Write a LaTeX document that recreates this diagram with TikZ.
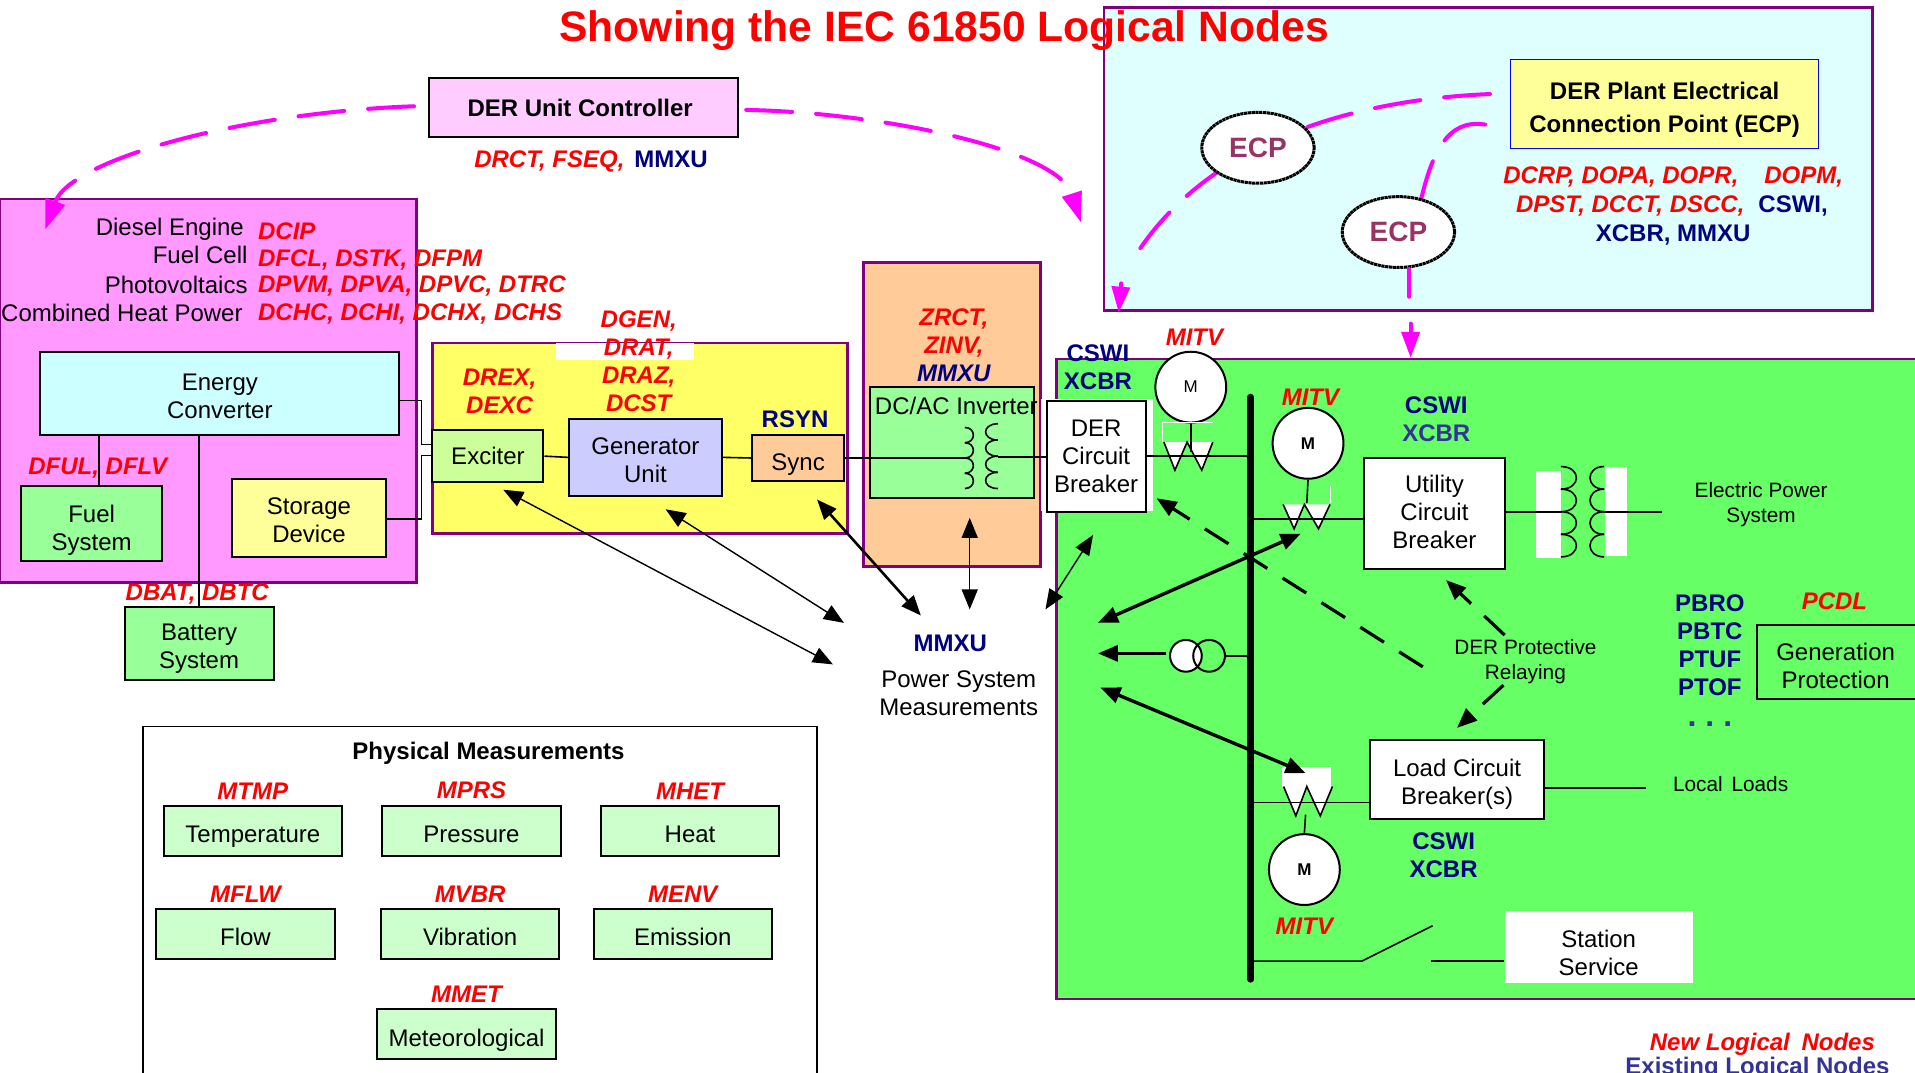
\documentclass[tikz,border=0pt]{standalone}
\usepackage{fontspec}
\setmainfont{Liberation Sans}
\usetikzlibrary{arrows.meta,shapes.geometric}

\definecolor{panelpurple}{HTML}{800080}
\definecolor{linkmagenta}{HTML}{FF00FF}
\definecolor{lnnavy}{HTML}{000080}
\definecolor{lnblue}{HTML}{333399}
\definecolor{ecpplum}{HTML}{993366}
\definecolor{plantgreen}{HTML}{66FF66}
\definecolor{derpink}{HTML}{FF99FF}
\definecolor{ctrlpink}{HTML}{FFCCFF}
\definecolor{gridcyan}{HTML}{DFFFFF}
\definecolor{convcyan}{HTML}{CCFFFF}
\definecolor{genyellow}{HTML}{FFFF66}
\definecolor{paleyellow}{HTML}{FFFF99}
\definecolor{paleorange}{HTML}{FFCC99}
\definecolor{midgreen}{HTML}{99FF99}
\definecolor{palegreen}{HTML}{CCFFCC}
\definecolor{limegreen}{HTML}{CCFF99}
\definecolor{genblue}{HTML}{CCCCFF}

\newdimen\unitpx
\unitpx=0.6107pt

\tikzset{
	>={Triangle[length=10pt,width=8pt]},
	panel/.style={draw=panelpurple, line width=1.3pt},
	wh/.style 2 args={minimum width=#1\unitpx, minimum height=#2\unitpx, inner sep=0pt},
	box/.style={draw=black, line width=1pt, align=center, font=\fontsize{12}{14}\selectfont},
	patch/.style={fill=white, inner sep=0pt},
	wire/.style={line width=0.8pt},
	lbl/.style={inner sep=0pt, align=center, font=\fontsize{12}{14}\selectfont},
	lblsmall/.style={inner sep=0pt, align=center, font=\fontsize{10.4}{12.6}\selectfont},
	newln/.style={inner sep=0pt, align=center, red, font=\fontsize{12}{14}\selectfont\bfseries\itshape},
	oldln/.style={inner sep=0pt, align=center, lnnavy, font=\fontsize{12}{14}\selectfont\bfseries},
	meter/.style={circle, draw=black, fill=white, line width=1pt, minimum size=58\unitpx, inner sep=0pt, font=\fontsize{8.5}{10}\selectfont},
	ecp/.style={ellipse, draw=black, fill=white, line width=1.5pt, dash pattern=on 1.6pt off 0.3pt, minimum width=92\unitpx, minimum height=58\unitpx, inner sep=0pt, text=ecpplum, font=\fontsize{14}{16}\selectfont\bfseries},
	ctcircle/.style={circle, draw=black, line width=1pt, minimum size=26\unitpx, inner sep=0pt},
	linkcurve/.style={linkmagenta, line width=2pt, line cap=round, dash pattern=on 23pt off 12pt},
	dashtip/.style={line width=1.6pt, dash pattern=on 14pt off 9pt},
	thicktip/.style={line width=1.7pt},
	thintip/.style={line width=0.7pt}
}

\newcommand{\dropby}[1]{\rule{0pt}{#1pt}}
\newcommand{\coilturns}[4]{\foreach \i in {0,...,3} \draw[wire] (#1,{#2+#4*\i}) .. controls +(#3,0) and +(#3,0) .. +(0,#4);}
\newcommand{\breakerw}[7]{\draw[wire, fill=white] (#1,#6) -- (#2,#7) -- (#3,#6) -- (#4,#7) -- (#5,#6);}

\begin{document}
\begin{tikzpicture}[x=\unitpx, y=-\unitpx]
	\useasboundingbox (0,0) rectangle (1568,878);

	\draw[panel, fill=gridcyan] (904,6) rectangle (1533,254);
	\draw[panel, fill=plantgreen] (865,294) rectangle (1575,818);
	\draw[panel, fill=derpink] (0,163) rectangle (341,477);
	\draw[panel, fill=genyellow] (354,281) rectangle (694,437);
	\draw[panel, fill=paleorange] (707,215) rectangle (852,464);
	\node[patch, wh={113}{14}] (dgenpatch) at (511.5,288) {};
	\node[patch, wh={92}{91}] (dercbpatch) at (898,372.5) {};

	\node[font=\fontsize{21.3}{24}\selectfont\bfseries, red, inner sep=0pt] (title) at (773,25) {Showing the IEC 61850 Logical Nodes};

	\node[box, fill=ctrlpink, wh={253}{48}, font=\fontsize{12}{14}\selectfont\bfseries] (ctrl) at (477.5,88) {DER Unit Controller\hspace{3pt}};
	\node[newln, anchor=west] (ctrlln) at (388,132) {DRCT, FSEQ,\hspace{5pt}\textcolor{lnnavy}{\upshape MMXU}};

	\coordinate (ctrlleft) at (339,87);
	\coordinate (dertip) at (37,188);
	\coordinate (ctrlright) at (611,90);
	\coordinate (gridtip) at (885,182);
	\draw[linkcurve, -{Triangle[length=15pt,width=10pt]}] (ctrlleft) .. controls (200,92) and (58,130) .. (dertip);
	\draw[linkcurve, -{Triangle[length=15pt,width=10pt]}] (ctrlright) .. controls (720,92) and (866,122) .. (gridtip);

	\node[box, fill=paleyellow, draw=blue, line width=0.5pt, wh={252}{73}, font=\fontsize{12}{16.5}\selectfont\bfseries] (plant) at (1363,85.5) {\dropby{13.6}DER Plant Electrical\\Connection Point (ECP)};
	\node[newln] (plantlnA) at (1370,145) {DCRP, DOPA, DOPR,\hspace{13pt}DOPM,};
	\node[newln, anchor=west] (plantlnB) at (1241,169) {DPST, DCCT, DSCC,\hspace{7pt}\textcolor{lnnavy}{\upshape CSWI,}};
	\node[oldln] (plantlnC) at (1370,192) {XCBR, MMXU};

	\coordinate (plantA) at (1220,77);
	\coordinate (plantAend) at (928,212);
	\coordinate (plantAgap) at (918,232);
	\coordinate (dertipB) at (916,256);
	\coordinate (plantB) at (1216,102);
	\coordinate (plantmid) at (1162,170);
	\coordinate (plantBend) at (1154,243);
	\coordinate (plantBgap) at (1155,265);
	\coordinate (greentip) at (1155,293);
	\draw[linkcurve] (plantA) .. controls (1100,82) and (985,120) .. (plantAend);
	\draw[linkcurve, -{Triangle[length=13pt,width=9pt]}] (plantAgap) -- (dertipB);
	\draw[linkcurve] (plantB) .. controls (1185,97) and (1172,125) .. (plantmid);
	\draw[linkcurve, -{Triangle[length=13pt,width=9pt]}] (plantBgap) -- (greentip);
	\node[ecp] (ecpA) at (1030,121) {ECP};
	\node[ecp] (ecpB) at (1145,190) {ECP};
	\draw[linkmagenta, line width=2pt, line cap=round] (ecpB.south) ++(9\unitpx,0) -- (plantBend);

	\foreach \n/\y/\x/\t in {diesel/188/200/Diesel Engine, fuelcell/209/203/Fuel Cell, pv/233/203/Photovoltaics, chp/256/199/Combined Heat Power}
		\node[lbl, anchor=east] (\n) at (\x,\y) {\t};
	\foreach \n/\y/\t in {dcip/189/DCIP, dfcl/213/{DFCL, DSTK, DFPM}, dpvm/234/{DPVM, DPVA, DPVC, DTRC}, dchc/257/{DCHC, DCHI, DCHX, DCHS}}
		\node[newln, anchor=west] (\n) at (211,\y) {\t};

	\node[box, fill=convcyan, wh={294}{68}] (energy) at (180,322) {\dropby{11.2}Energy\\Converter};
	\node[box, fill=midgreen, wh={116}{61}] (fuel) at (75,428.5) {\dropby{16.1}Fuel\hspace{2.4pt}\\System\hspace{2.4pt}};
	\node[box, fill=paleyellow, wh={126}{64}] (storage) at (253,424) {\dropby{11}Storage\\Device};
	\node[box, fill=midgreen, wh={122}{60}] (battery) at (163,527) {\dropby{13.7}Battery\\System};
	\node[newln] (dful) at (80,383) {DFUL, DFLV};
	\node[newln] (dbat) at (161.5,486) {DBAT, DBTC};

	\node[box, fill=limegreen, wh={91}{43}] (exciter) at (399.5,373.5) {Exciter};
	\node[box, fill=genblue, wh={125}{63}] (gen) at (528.5,374.5) {\dropby{11.2}Generator\\Unit};
	\node[box, fill=paleorange, wh={75}{38}] (sync) at (653.5,375) {\dropby{14.9}Sync};
	\node[newln] (drex) at (409,320.5) {DREX,\\DEXC};
	\node[newln] (dgen) at (523,296) {DGEN,\\DRAT,\\DRAZ,\\DCST};
	\node[oldln] (rsyn) at (651,343) {RSYN};

	\node[newln] (zrct) at (781,283) {ZRCT,\\ZINV,\\\textcolor{lnnavy}{MMXU}};
	\node[box, fill=midgreen, wh={135}{91}] (inverter) at (779.5,362.5) {};
	\node[lbl] (invlabel) at (783,332) {DC/AC Inverter};

	\coordinate (bendA) at (345,328);
	\coordinate (bendB) at (345,364);
	\coordinate (bendC) at (345,425);
	\coordinate (bendD) at (345,373);
	\draw[wire] ([xshift=6\unitpx]fuel.north) -- ([xshift=6\unitpx]fuel.north |- energy.south);
	\draw[wire] (battery.north) -- (battery.north |- energy.south);
	\draw[wire] (energy.east |- bendA) -- (bendA) -- (bendB) -- (exciter.west |- bendB);
	\draw[wire] (storage.east |- bendC) -- (bendC) -- (bendD) -- (exciter.west |- bendD);
	\draw[wire] (exciter.east) -- (gen.west);
	\draw[wire] (gen.east) -- (sync.west);

	\coordinate (invcoilL) at (790,375);
	\coordinate (invcoilR) at (817,374);
	\coilturns{790}{350}{9.3}{12.5}
	\coilturns{817}{347}{-13.3}{13.25}
	\node[box, fill=white, wh={81}{91}] (dercb) at (897.5,373.5) {DER\hspace{8.6pt}\\Circuit\hspace{3pt}\\Breaker};
	\draw[wire] (sync.east) -- (invcoilL);
	\draw[wire] (invcoilR) -- (dercb.west |- invcoilR);
	\node[oldln] (dercbln) at (899,300.5) {CSWI\\XCBR};

	\coordinate (bustop) at (1024,325);
	\coordinate (busbot) at (1024,802);
	\draw[line width=3.2pt, line cap=round] (bustop) -- (busbot);

	\node[newln] (mitvA) at (978,276) {MITV};
	\node[meter] (meterA) at (975,317) {M};
	\coordinate (stemA) at (975,370);
	\draw[white, line width=0.5pt] (952,362) -- (952,346) -- (993,346);
	\breakerw{953}{962}{972}{984}{993}{362}{385}
	\draw[wire] (meterA.south) -- (stemA);
	\draw[wire] (dercb.east) -- (bustop |- dercb.east);

	\node[newln] (mitvB) at (1073,325) {MITV};
	\node[meter, font=\fontsize{8.5}{10}\selectfont\bfseries] (meterB) at (1071,363) {M};
	\node[box, fill=white, wh={115}{91}] (utility) at (1174.5,420.5) {Utility\\Circuit\\Breaker\rule[-1.5pt]{0pt}{1.5pt}};
	\node[oldln] (utilityln) at (1176,343.5) {CSWI\\\textcolor{lnblue}{XCBR}};
	\coordinate (stemB) at (1070,412);
	\coordinate (utilbus) at (1024,425);
	\draw[white, line width=0.5pt] (1089,398) -- (1089,412);
	\breakerw{1050.6}{1059.6}{1068}{1079.6}{1089}{413}{433}
	\draw[wire] (meterB.south) -- (stemB);
	\draw[wire] (utilbus) -- (utility.west |- utilbus);

	\node[patch, wh={20}{71}] (tfpatchL) at (1268,421.5) {};
	\node[patch, wh={18}{73}] (tfpatchR) at (1323,418.5) {};
	\coordinate (tfL) at (1278,419);
	\coordinate (tfR) at (1313.5,419);
	\coordinate (epsend) at (1361,419);
	\coilturns{1278}{382}{17}{18.5}
	\coilturns{1313.5}{382}{-15.5}{18.5}
	\draw[wire] (utility.east |- tfL) -- (tfL);
	\draw[wire] (tfR) -- (epsend);
	\node[lblsmall] (eps) at (1442,413) {Electric Power\\System};

	\node[box, fill=white, wh={142}{65}] (load) at (1193,638.5) {\dropby{13.3}Load Circuit\\Breaker(s)};
	\node[oldln] (loadln) at (1182,700.5) {CSWI\\XCBR};
	\node[patch, wh={40}{16}] (wpatch) at (1070,636) {};
	\coordinate (loadbus) at (1024,657);
	\coordinate (loadend) at (1348,645);
	\coordinate (stemC) at (1069,667);
	\breakerw{1051}{1061}{1070}{1081}{1091}{644}{668}
	\draw[wire] (loadbus) -- (load.west |- loadbus);
	\draw[wire] (load.east |- loadend) -- (loadend);
	\node[lblsmall] (localloads) at (1417,642) {Local\hspace{1.5pt} Loads};
	\node[meter, font=\fontsize{8.5}{10}\selectfont\bfseries] (meterC) at (1068,712) {M};
	\draw[wire] (meterC.north) -- (stemC);
	\node[newln] (mitvC) at (1068,758) {MITV};

	\node[patch, wh={154}{59}, align=center, font=\fontsize{12}{14}\selectfont] (station) at (1309,775.5) {\dropby{14.9}Station\\Service};
	\coordinate (swbus) at (1024,787);
	\coordinate (swhinge) at (1115,787);
	\coordinate (swblade) at (1173,758);
	\coordinate (swopen) at (1172,787);
	\draw[wire] (swbus) -- (swhinge) -- (swblade);
	\draw[wire] (swopen) -- (station.west |- swopen);

	\node[ctcircle, fill=white] (ctL) at (971,537) {};
	\node[ctcircle] (ctR) at (990,537) {};
	\coordinate (ctarrow) at (955,535);
	\coordinate (ctend) at (899,535);
	\draw[wire] (ctR.east) -- (bustop |- ctR.east);
	\draw[thicktip, ->] (ctarrow) -- (ctend);

	\coordinate (aA) at (1065,437);
	\coordinate (aB) at (899,510);
	\coordinate (aC) at (1069,633);
	\coordinate (aD) at (901,563);
	\draw[thicktip, <->] (aA) -- (aB);
	\draw[thicktip, <->] (aC) -- (aD);

	\node[lblsmall] (relaying) at (1249,541.5) {DER Protective\\Relaying};
	\coordinate (relayA) at (1165,546);
	\coordinate (relayAtip) at (947,408);
	\coordinate (relayB) at (1232,520);
	\coordinate (relayBtip) at (1184,475);
	\coordinate (relayC) at (1231,561);
	\coordinate (relayCtip) at (1193,596);
	\draw[dashtip, ->] (relayA) -- (relayAtip);
	\draw[dashtip, ->] (relayB) -- (relayBtip);
	\draw[dashtip, ->] (relayC) -- (relayCtip);

	\node[oldln] (pbro) at (1400,528.5) {PBRO\\PBTC\\PTUF\\PTOF};
	\node[inner sep=0pt, anchor=base, text=lnblue, font=\fontsize{16}{18}\selectfont\bfseries] (moredots) at (1400,595) {.\hspace{4.5pt}.\hspace{4.5pt}.};
	\node[newln] (pcdl) at (1502,492) {PCDL};
	\draw[line width=1pt] (1575,512) -- (1439,512) -- (1439,572) -- (1575,572);
	\node[lbl] (genprot) at (1503,545.5) {Generation\\Protection};

	\node[oldln] (mmxu) at (778,527) {MMXU};
	\node[lbl] (psm) at (785,568) {Power System\\Measurements};
	\coordinate (excitertip) at (412,401);
	\coordinate (excitermm) at (682,544);
	\coordinate (gentip) at (545,417);
	\coordinate (genmm) at (691,510);
	\coordinate (synctip) at (669,409);
	\coordinate (syncmm) at (754,504);
	\coordinate (invtip) at (794,424);
	\coordinate (invmm) at (794,499);
	\coordinate (dertipC) at (895,438);
	\coordinate (dermm) at (856,499);
	\draw[thintip, <->] (excitertip) -- (excitermm);
	\draw[thintip, <->] (gentip) -- (genmm);
	\draw[line width=1.3pt, <->] (synctip) -- (syncmm);
	\draw[thintip, <->] (invtip) -- (invmm);
	\draw[thintip, <->] (dertipC) -- (dermm);

	\draw[line width=0.7pt] (117,885) -- (117,595) -- (669,595) -- (669,885);
	\node[oldln, text=black] (physical) at (400,617) {Physical Measurements};
	\foreach \n/\x/\y/\t/\l/\s in {temp/207/680.5/Temperature/MTMP/13.7, press/386/680.5/Pressure/MPRS/11.2, heat/565/680.5/Heat/MHET/11.2, flow/201/765/Flow/MFLW/11.2, vibr/385/765/Vibration/MVBR/11.2, emis/559/765/Emission/MENV/11.2, meteo/382/847/Meteorological/MMET/14.9} {
		\node[box, fill=palegreen, wh={146}{41}] (\n) at (\x,\y) {\dropby{\s}\t};
		\node[newln, above=2.8pt] (\n ln) at (\n.north) {\l};
	}

	\node[newln] (legendnew) at (1443,855) {New Logical\hspace{2.5pt} Nodes};
	\node[oldln, text=lnblue] (legendold) at (1439,875) {Existing Logical Nodes};
\end{tikzpicture}
\end{document}
